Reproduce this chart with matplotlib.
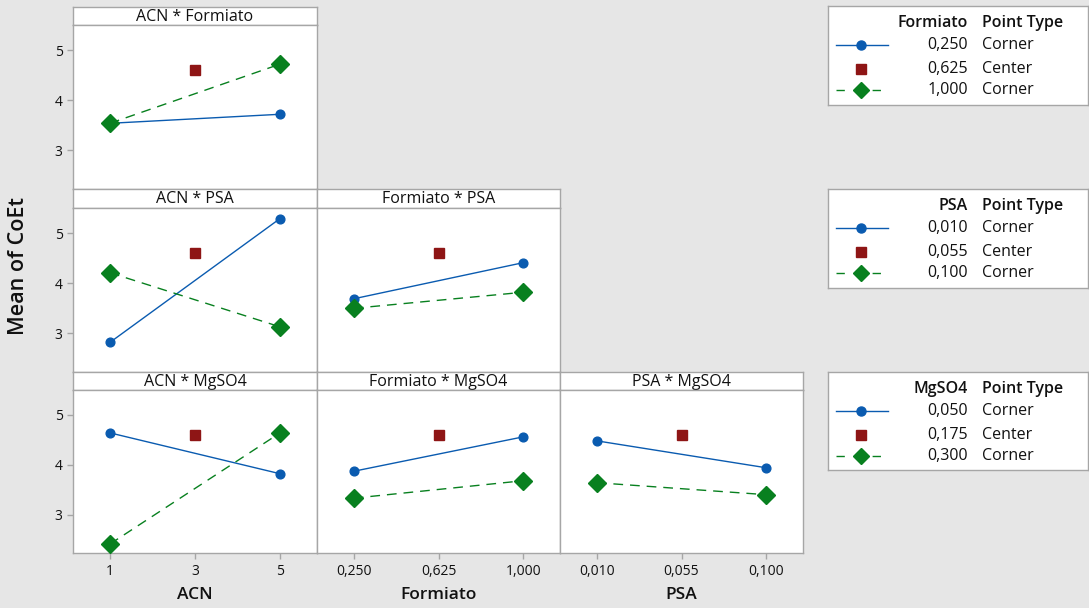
import numpy as np
import matplotlib
matplotlib.use("Agg")
import matplotlib.pyplot as plt
from matplotlib.lines import Line2D

plt.rcParams['font.family'] = ['Open Sans', 'DejaVu Sans']

# factor levels
acn_levels = [1, 3, 5]
formiato_levels = [0.250, 0.625, 1.000]
psa_levels = [0.010, 0.055, 0.100]
acn_ticks = ["1", "3", "5"]
formiato_ticks = ["0,250", "0,625", "1,000"]
psa_ticks = ["0,010", "0,055", "0,100"]

# means (low level of trace factor, high level of trace factor)
acn_formiato_low = [3.54, 3.72]
acn_formiato_high = [3.54, 4.72]
acn_psa_low = [2.82, 5.29]
acn_psa_high = [4.21, 3.13]
formiato_psa_low = [3.69, 4.41]
formiato_psa_high = [3.50, 3.82]
acn_mgso4_low = [4.64, 3.82]
acn_mgso4_high = [2.41, 4.64]
formiato_mgso4_low = [3.87, 4.56]
formiato_mgso4_high = [3.33, 3.68]
psa_mgso4_low = [4.48, 3.94]
psa_mgso4_high = [3.64, 3.40]
center_mean = 4.60

legend_titles = ["Formiato", "PSA", "MgSO4"]
legend_values = [["0,250", "0,625", "1,000"],
                 ["0,010", "0,055", "0,100"],
                 ["0,050", "0,175", "0,300"]]
point_types = ["Corner", "Center", "Corner"]

BLUE = "#0a5bb0"
GREEN = "#08801f"
RED = "#8e1515"
EDGE = "#a6a6a6"
BG = "#e6e6e6"
TXT = "#111111"

W, H = 1089, 608
fig = plt.figure(figsize=(W / 100, H / 100), dpi=100, facecolor=BG)


def ax_px(left, top, right, bottom, **kw):
    return fig.add_axes([left / W, 1 - bottom / H, (right - left) / W, (bottom - top) / H], **kw)


cols = [(73, 317), (317, 560), (560, 803)]
rows = [((7, 25), (25, 189)), ((189, 208), (208, 372)), ((372, 390), (390, 553))]
xlevels = [acn_levels, formiato_levels, psa_levels]
xticklabels = [acn_ticks, formiato_ticks, psa_ticks]
xnames = ["ACN", "Formiato", "PSA"]
trace_names = ["Formiato", "PSA", "MgSO4"]

panel_data = {
    (0, 0): (acn_formiato_low, acn_formiato_high),
    (1, 0): (acn_psa_low, acn_psa_high),
    (1, 1): (formiato_psa_low, formiato_psa_high),
    (2, 0): (acn_mgso4_low, acn_mgso4_high),
    (2, 1): (formiato_mgso4_low, formiato_mgso4_high),
    (2, 2): (psa_mgso4_low, psa_mgso4_high),
}

for (r, c), (low, high) in panel_data.items():
    (bt, bb), (pt, pb) = rows[r]
    cl, cr = cols[c]
    lv = xlevels[c]
    span = lv[2] - lv[0]
    # title band
    tb = ax_px(cl, bt, cr, bb)
    tb.set_facecolor("white")
    tb.set_xticks([])
    tb.set_yticks([])
    for s in tb.spines.values():
        s.set_color(EDGE)
        s.set_linewidth(1)
    tb.text(0.5, 0.45, f"{xnames[c]} * {trace_names[r]}", ha="center", va="center",
            fontsize=11.5, color=TXT, transform=tb.transAxes)
    # plot area
    ax = ax_px(cl, pt, cr, pb)
    ax.set_facecolor("white")
    for s in ax.spines.values():
        s.set_color(EDGE)
        s.set_linewidth(1)
    xs = [lv[0], lv[2]]
    ax.plot(xs, low, color=BLUE, lw=1, marker="o", ms=6.3, zorder=3)
    ax.plot(xs, high, color=GREEN, lw=1, dashes=(7, 5), marker="D", ms=9, zorder=3)
    ax.plot([lv[1]], [center_mean], color=RED, marker="s", ms=7.5, ls="none", zorder=4)
    ax.set_xlim(lv[0] - 0.217 * span, lv[2] + 0.217 * span)
    ax.set_ylim(2.23, 5.5)
    ax.set_yticks([3, 4, 5])
    ax.set_xticks(lv)
    ax.tick_params(colors=EDGE, labelcolor=TXT, labelsize=10, length=4, width=1)
    if c == 0:
        ax.set_yticklabels(["3", "4", "5"])
    else:
        ax.tick_params(axis="y", left=False, labelleft=False)
    if r == 2:
        ax.set_xticklabels(xticklabels[c])
        ax.tick_params(axis="x", pad=4)
        ax.set_xlabel(xnames[c], fontsize=12.5, fontweight="semibold", color=TXT, labelpad=6)
    else:
        ax.tick_params(axis="x", bottom=False, labelbottom=False)

fig.text(19 / W, 1 - 266 / H, "Mean of CoEt", rotation=90, ha="center", va="center",
         fontsize=15.5, fontweight="semibold", color=TXT)

# legends
legend_boxes = [(6, 105), (189, 288), (372, 470)]
for i, (top, bot) in enumerate(legend_boxes):
    lg = ax_px(828, top, 1088, bot)
    lg.set_facecolor("white")
    lg.set_xlim(828, 1088)
    lg.set_ylim(bot, top)
    lg.set_xticks([])
    lg.set_yticks([])
    for s in lg.spines.values():
        s.set_color(EDGE)
        s.set_linewidth(1)
    y0 = top + 17
    lg.text(968, y0, legend_titles[i], ha="right", va="center", fontsize=11.5,
            fontweight="semibold", color=TXT)
    lg.text(982, y0, "Point Type", ha="left", va="center", fontsize=11.5,
            fontweight="semibold", color=TXT)
    ys = [y0 + 22, y0 + 46, y0 + 67]
    lg.add_line(Line2D([836, 888], [ys[0], ys[0]], color=BLUE, lw=1))
    lg.plot([861], [ys[0]], color=BLUE, marker="o", ms=6.5)
    lg.plot([861], [ys[1]], color=RED, marker="s", ms=7.5)
    lg.add_line(Line2D([836, 888], [ys[2], ys[2]], color=GREEN, lw=1, dashes=(6, 7)))
    lg.plot([861], [ys[2]], color=GREEN, marker="D", ms=8)
    for k in range(3):
        lg.text(968, ys[k], legend_values[i][k], ha="right", va="center", fontsize=11.5, color=TXT)
        lg.text(982, ys[k], point_types[k], ha="left", va="center", fontsize=11.5, color=TXT)

fig.savefig("out.png", dpi=100, facecolor=BG)
